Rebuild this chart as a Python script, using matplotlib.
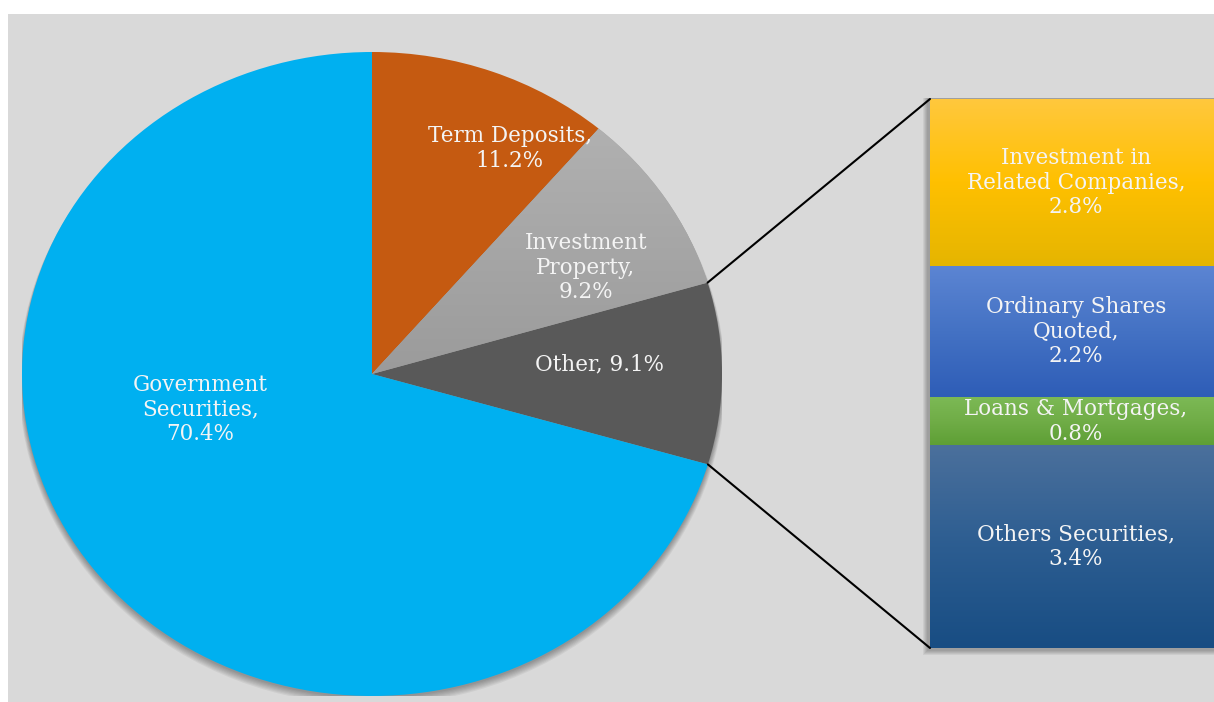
import numpy as np
import matplotlib.pyplot as plt
from matplotlib.patches import Rectangle, Ellipse, ConnectionPatch
from matplotlib.colors import LinearSegmentedColormap

# Pie data (clockwise from 12 o'clock)
pie_labels = ["Term Deposits,\n11.2%", "Investment\nProperty,\n9.2%",
              "Other, 9.1%", "Government\nSecurities,\n70.4%"]
pie_values = [11.2, 9.2, 9.1, 70.4]
pie_colors = ["#C55A11", "#A5A5A5", "#595959", "#00B0F0"]

# Breakdown of "Other" (top to bottom)
bar_labels = ["Investment in\nRelated Companies,\n2.8%", "Ordinary Shares\nQuoted,\n2.2%",
              "Loans & Mortgages,\n0.8%", "Others Securities,\n3.4%"]
bar_values = [2.8, 2.2, 0.8, 3.4]
# gradient colours, top -> bottom
bar_grad = [("#FFC83E", "#FFC000", "#E5B500"),
            ("#5C85D3", "#4472C4", "#2E5DB7"),
            ("#7CB955", "#70AD47", "#5E9F35"),
            ("#4B709C", "#2C5D91", "#184D83")]

# label positions inside the pie (axes data units)
pie_text_pos = [(0.394, 0.70), (0.611, 0.33), (0.651, 0.03), (-0.49, -0.11)]

W, H = 1214, 702
plt.rcParams['font.family'] = ['DejaVu Serif']
fig = plt.figure(figsize=(W / 100, H / 100), dpi=100)
fig.patch.set_facecolor("white")
fig.patches.append(Rectangle((8 / W, 0), 1, 1 - 14 / H, transform=fig.transFigure,
                             facecolor="#D9D9D9", edgecolor="none", zorder=-10))


def px_axes(x0, y0, x1, y1):
    return fig.add_axes([x0 / W, 1 - y1 / H, (x1 - x0) / W, (y1 - y0) / H])


# ----------------------------
# Pie
# ----------------------------
ax = px_axes(22, 52, 722, 696)
ax.patch.set_alpha(0)

# soft shadow (mostly downward)
for i in range(7):
    ax.add_patch(Ellipse((0.0, -0.006 - i * 0.0022), 2.0 + i * 0.003, 2.0 + i * 0.003,
                         facecolor="black", edgecolor="none", alpha=0.05, zorder=0))

wedges, _ = ax.pie(pie_values, colors=pie_colors, startangle=90, counterclock=False,
                   radius=1, wedgeprops=dict(linewidth=0))
for w in wedges:
    w.set_zorder(2)

# gradient on Investment Property slice
gray_cmap = LinearSegmentedColormap.from_list("g", ["#9B9B9B", "#B3B3B3"])
grad = np.linspace(0, 1, 256).reshape(-1, 1)
im = ax.imshow(grad, cmap=gray_cmap, extent=(-1, 1, 0.0, 0.85), origin="lower",
               aspect="auto", zorder=3)
im.set_clip_path(wedges[1])

ax.set_aspect("auto")
ax.set_xlim(-1, 1)
ax.set_ylim(-1, 1)
ax.axis("off")

for (x, y), lab in zip(pie_text_pos, pie_labels):
    ax.text(x, y, lab, ha="center", va="center", color="#F4F4F4", fontsize=15.5,
            linespacing=1.15, zorder=5)

# ----------------------------
# Bar of "Other"
# ----------------------------
# shadow behind the bar
for i in range(5):
    fig.patches.append(Rectangle(((927 - i) / W, 1 - (651 + i) / H), 300 / W, (553 + i) / H,
                                 transform=fig.transFigure, facecolor="black",
                                 edgecolor="none", alpha=0.06, zorder=-5))

bx = px_axes(930, 99, 1222, 648)
bottoms = np.concatenate([[0], np.cumsum(bar_values)[:-1]])
bars = bx.bar(0, bar_values, bottom=bottoms, width=1, color=[c[1] for c in bar_grad],
              linewidth=0)
for rect, cols in zip(bars, bar_grad):
    cmap = LinearSegmentedColormap.from_list("b", [cols[2], cols[1], cols[0]])
    y0 = rect.get_y()
    y1 = y0 + rect.get_height()
    gim = bx.imshow(np.linspace(0, 1, 256).reshape(-1, 1), cmap=cmap,
                    extent=(-0.5, 0.5, y1, y0), origin="lower", aspect="auto", zorder=2)
    gim.set_clip_path(rect)
bx.set_xlim(-0.5, 0.5)
bx.set_ylim(sum(bar_values), 0)
bx.axis("off")

for rect, lab in zip(bars, bar_labels):
    bx.text(0, rect.get_y() + rect.get_height() / 2, lab, ha="center", va="center",
            color="#F4F4F4", fontsize=15.5, linespacing=1.15, zorder=5)

# connector lines from the "Other" slice to the bar
other = wedges[2]
for theta, yb in [(other.theta2, 0), (other.theta1, sum(bar_values))]:
    t = np.deg2rad(theta)
    con = ConnectionPatch(xyA=(np.cos(t), np.sin(t)), coordsA=ax.transData,
                          xyB=(-0.5, yb), coordsB=bx.transData,
                          color="black", linewidth=1.5, zorder=10)
    fig.add_artist(con)

fig.savefig("out.png", dpi=100, facecolor=fig.get_facecolor())
